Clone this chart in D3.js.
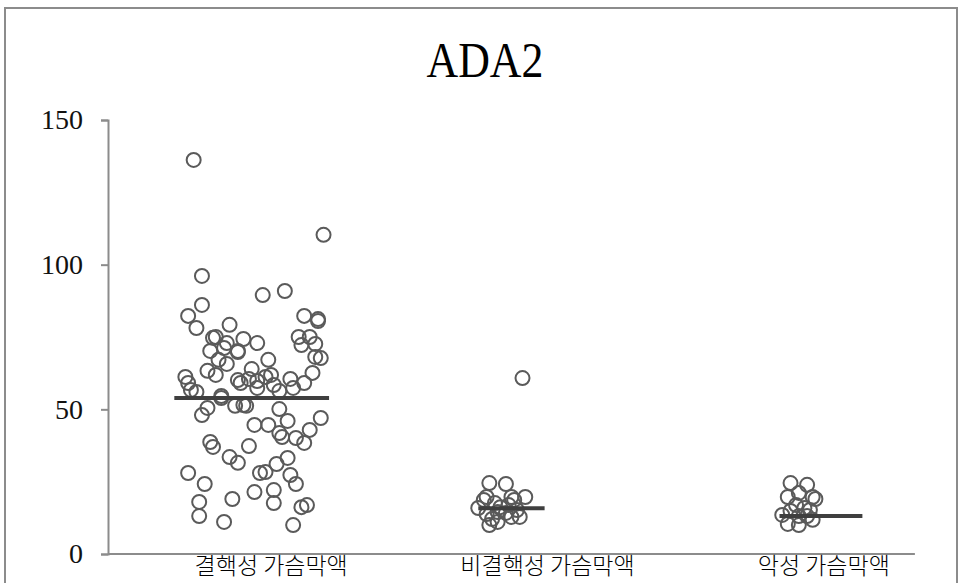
<!DOCTYPE html>
<html>
<head>
<meta charset="utf-8">
<script src="https://cdn.jsdelivr.net/npm/d3@7"></script>
<style>
  body { margin: 0; background: #fff; }
  svg { display: block; }
</style>
</head>
<body>
<div id="chart"></div>
<script>
// category labels
const categories = ["결핵성 가슴막액", "비결핵성 가슴막액", "악성 가슴막액"];
const yTicks = [0, 50, 100, 150];
const title = "ADA2";

// [jitter in category units, value]
const tbPoints = [
  [-0.19, 136.2], [0.28, 110.3], [-0.16, 96.1], [0.06, 89.5], [0.14, 90.9],
  [-0.16, 86.1], [-0.21, 82.3], [-0.18, 78.1], [-0.06, 79.2], [0.21, 82.3],
  [0.26, 81.2], [0.26, 80.5], [-0.12, 74.7], [-0.11, 75.0], [-0.07, 72.9],
  [-0.01, 74.3], [0.04, 72.9], [-0.13, 70.2], [-0.08, 71.2], [-0.03, 69.8],
  [-0.03, 70.2], [-0.10, 67.1], [-0.07, 65.7], [0.08, 67.1], [0.19, 75.0],
  [0.23, 75.0], [0.20, 72.2], [0.25, 72.6], [0.25, 68.1], [0.27, 67.7],
  [-0.14, 63.3], [-0.11, 61.9], [-0.22, 61.2], [-0.21, 59.1], [-0.20, 56.7],
  [-0.18, 56.0], [-0.03, 60.1], [-0.02, 59.1], [0.02, 63.9], [0.01, 60.5],
  [0.04, 59.8], [0.07, 61.2], [0.09, 61.9], [0.04, 57.4], [0.10, 58.4],
  [0.12, 56.3], [0.16, 60.5], [0.17, 57.4], [0.21, 59.1], [0.24, 62.6],
  [-0.09, 53.9], [-0.09, 54.6], [-0.04, 51.2], [-0.01, 51.5], [0.00, 51.2],
  [-0.14, 50.5], [-0.16, 48.0], [0.12, 50.1], [0.15, 46.0], [0.27, 47.0],
  [0.03, 44.6], [0.08, 44.6], [0.12, 41.8], [0.13, 40.4], [0.18, 40.1],
  [0.23, 42.9], [0.21, 38.4], [-0.13, 38.7], [-0.12, 37.0], [0.01, 37.3],
  [-0.06, 33.5], [-0.03, 31.5], [-0.21, 28.0], [-0.15, 24.2], [-0.17, 18.0],
  [-0.17, 13.1], [-0.08, 11.1], [-0.05, 19.0], [0.03, 21.4], [0.05, 28.0],
  [0.07, 28.3], [0.11, 31.1], [0.15, 33.2], [0.16, 27.3], [0.18, 24.2],
  [0.10, 22.1], [0.10, 17.6], [0.20, 16.2], [0.22, 16.9], [0.17, 10.0]
];

const nonTbPoints = [
  [0.00, 60.8], [-0.12, 24.5], [-0.06, 24.2], [-0.13, 19.7], [-0.04, 19.7],
  [0.01, 19.7], [-0.10, 17.6], [-0.08, 16.2], [-0.05, 16.9], [-0.02, 15.2],
  [-0.13, 13.8], [-0.09, 14.5], [-0.06, 14.2], [-0.01, 12.8], [-0.12, 10.0],
  [-0.09, 11.1], [-0.16, 15.9], [-0.11, 12.1], [-0.04, 12.8], [-0.03, 18.7],
  [-0.14, 18.7]
];

const malignantPoints = [
  [-0.03, 24.5], [0.03, 23.9], [-0.04, 19.7], [0.00, 21.1], [0.05, 19.7],
  [0.06, 19.0], [-0.01, 16.9], [0.02, 15.9], [0.04, 15.2], [-0.03, 14.9],
  [0.00, 13.1], [0.03, 13.1], [-0.04, 10.4], [0.00, 10.0], [0.05, 11.8],
  [-0.06, 13.5]
];

// median per group and its line extent (category units)
const medians = [53.9, 15.8, 13.1];
const medianFrom = [-0.26, -0.16, -0.07];
const medianTo = [0.30, 0.08, 0.23];

const groups = [tbPoints, nonTbPoints, malignantPoints];

const width = 960;
const height = 583;
const margin = { top: 120, right: 23, bottom: 29, left: 108 };

const svg = d3.select("#chart").append("svg")
  .attr("width", width)
  .attr("height", height);

// chart frame
svg.append("rect")
  .attr("x", 5)
  .attr("y", 8)
  .attr("width", 952)
  .attr("height", 600)
  .attr("fill", "none")
  .attr("stroke", "#8c8c8c")
  .attr("stroke-width", 2);

const x = d3.scaleLinear()
  .domain([0.5, 3.5])
  .range([margin.left, width - margin.right]);

const y = d3.scaleLinear()
  .domain([0, 150])
  .range([height - margin.bottom, margin.top]);

// title, a bit condensed like the original serif
svg.append("text")
  .attr("transform", "translate(485,77) scale(0.86,1)")
  .attr("text-anchor", "middle")
  .attr("font-family", "Liberation Serif, serif")
  .attr("font-size", 51)
  .attr("fill", "#000")
  .text(title);

// y axis
const yAxis = svg.append("g")
  .attr("transform", `translate(${margin.left},0)`)
  .call(d3.axisLeft(y).tickValues(yTicks).tickSize(7).tickPadding(18));
yAxis.select(".domain").attr("stroke", "#8c8c8c").attr("stroke-width", 2);
yAxis.selectAll(".tick line").attr("stroke", "#8c8c8c").attr("stroke-width", 2);
yAxis.selectAll(".tick text")
  .attr("font-family", "Liberation Serif, serif")
  .attr("font-size", 28)
  .attr("fill", "#111");

// x axis line
svg.append("line")
  .attr("x1", margin.left)
  .attr("x2", x(3.42))
  .attr("y1", y(0))
  .attr("y2", y(0))
  .attr("stroke", "#8c8c8c")
  .attr("stroke-width", 2);

svg.append("g")
  .selectAll("text")
  .data(categories)
  .join("text")
  .attr("x", (d, i) => x(i + 1) + 25)
  .attr("y", y(0) + 20)
  .attr("text-anchor", "middle")
  .attr("font-family", "Noto Sans CJK KR, sans-serif")
  .attr("font-weight", 300)
  .attr("font-size", 23)
  .attr("fill", "#000")
  .text((d) => d);

// points
const flat = groups.flatMap((g, i) => g.map((p) => ({ cat: i + 1, j: p[0], v: p[1] })));

svg.append("g")
  .selectAll("circle")
  .data(flat)
  .join("circle")
  .attr("cx", (d) => x(d.cat + d.j))
  .attr("cy", (d) => y(d.v))
  .attr("r", 7)
  .attr("fill", "none")
  .attr("stroke", "#5a5a5a")
  .attr("stroke-width", 2);

// median lines
svg.append("g")
  .selectAll("line")
  .data(medians)
  .join("line")
  .attr("x1", (d, i) => x(i + 1 + medianFrom[i]))
  .attr("x2", (d, i) => x(i + 1 + medianTo[i]))
  .attr("y1", (d) => y(d))
  .attr("y2", (d) => y(d))
  .attr("stroke", "#3f3f3f")
  .attr("stroke-width", 4);
</script>
</body>
</html>
